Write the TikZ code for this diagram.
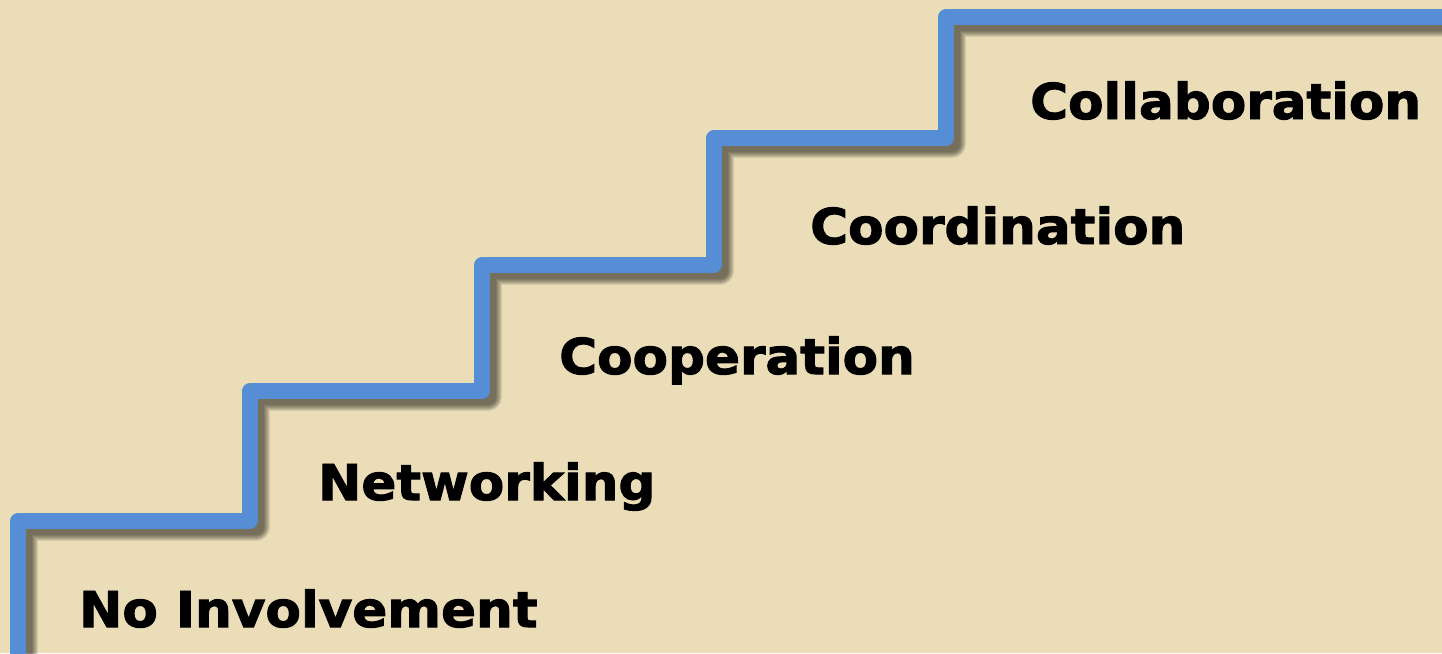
\documentclass[tikz,border=0pt]{standalone}
\usepackage{fontspec}
\newfontfamily\lbl[FakeStretch=1.045,BoldFeatures={FakeBold=2}]{DejaVu Sans}
\definecolor{bg}{HTML}{EADDB8}
\definecolor{stair}{HTML}{558ED5}
\begin{document}
\begin{tikzpicture}[x=1pt,y=-1pt,
  lab/.style={anchor=base west, inner sep=0pt, font=\lbl\bfseries\fontsize{49.4}{50}\selectfont},
  shade/.style={black, opacity=0.09, line join=round},
  stairline/.style={stair, line width=15.5pt, line join=round}]
\fill[bg] (0,0) rectangle (1442,653);
\useasboundingbox (0,0) rectangle (1442,653);
\begin{scope}
\clip (0,0) rectangle (1442,653);
\foreach \w in {27,25,...,15}
  \draw[shade, line width=\w pt, shift={(6,6)}] (18,670) -- (18,521) -- (250,521) -- (250,391) -- (482,391) -- (482,265) -- (714,265) -- (714,138) -- (946,138) -- (946,17) -- (1460,17);
\draw[stairline] (18,670) -- (18,521) -- (250,521) -- (250,391) -- (482,391) -- (482,265) -- (714,265) -- (714,138) -- (946,138) -- (946,17) -- (1460,17);
\end{scope}
\node[lab] (n0) at (79,627) {No Involvement};
\node[lab] (n1) at (318,500) {Networking};
\node[lab] (n2) at (559,374) {Cooperation};
\node[lab] (n3) at (810,244) {Coordination};
\node[lab] (n4) at (1030,119) {Collaboration};
\end{tikzpicture}
\end{document}
